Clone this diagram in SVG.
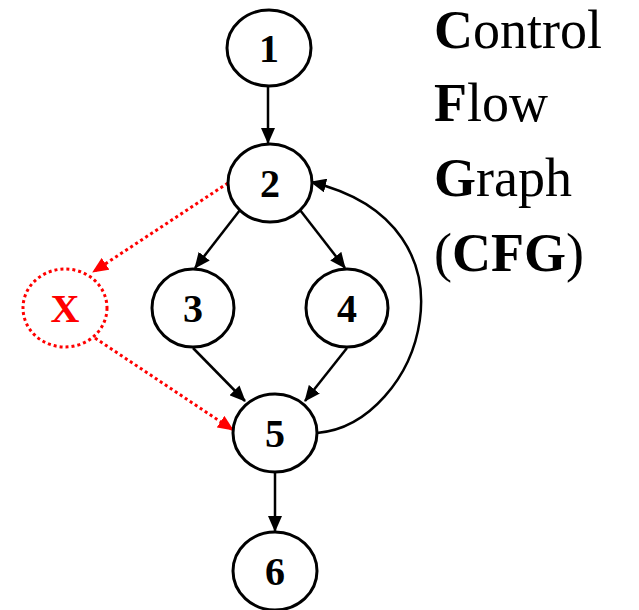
<svg xmlns="http://www.w3.org/2000/svg" width="639" height="610" viewBox="0 0 639 610">
<style>
.n ellipse{fill:#fff;stroke:#000;stroke-width:3}
.n text{font-family:"Liberation Serif",serif;font-weight:bold;font-size:40px;text-anchor:middle;fill:#000}
.e{fill:none;stroke:#000;stroke-width:2.5}
.r{fill:none;stroke:#f00;stroke-width:3;stroke-dasharray:3 3}
.t{font-family:"Liberation Serif",serif;font-size:54px;fill:#000}
.t tspan.b{font-weight:bold}
</style>
<defs>
<marker id="a" markerWidth="16" markerHeight="14" refX="15" refY="7" orient="auto" markerUnits="userSpaceOnUse" viewBox="0 0 16 14"><path d="M0,0 L16,7 L0,14 z" fill="#000"/></marker>
<marker id="ar" markerWidth="16" markerHeight="14" refX="15" refY="7" orient="auto" markerUnits="userSpaceOnUse" viewBox="0 0 16 14"><path d="M0,0 L16,7 L0,14 z" fill="#f00"/></marker>
</defs>
<g id="edges">
<line class="e" x1="268" y1="87" x2="268" y2="143" marker-end="url(#a)"/>
<line class="e" x1="240" y1="210" x2="195" y2="268" marker-end="url(#a)"/>
<line class="e" x1="300" y1="210" x2="345" y2="268" marker-end="url(#a)"/>
<line class="e" x1="193" y1="348" x2="245" y2="401" marker-end="url(#a)"/>
<line class="e" x1="347" y1="348" x2="305" y2="401" marker-end="url(#a)"/>
<line class="e" x1="275" y1="473" x2="275" y2="531" marker-end="url(#a)"/>
<path class="e" d="M317,433 C420,425 490,225 311,182" marker-end="url(#a)"/>
<line class="r" x1="228" y1="183" x2="93" y2="272" marker-end="url(#ar)"/>
<line class="r" x1="95" y1="338" x2="233" y2="430" marker-end="url(#ar)"/>
</g>
<g id="n1" class="n"><ellipse cx="269" cy="48" rx="42" ry="38"/><text x="269" y="62">1</text></g>
<g id="n2" class="n"><ellipse cx="270" cy="183" rx="42" ry="39"/><text x="270" y="197">2</text></g>
<g id="n3" class="n"><ellipse cx="193" cy="308" rx="41" ry="39"/><text x="193" y="322">3</text></g>
<g id="n4" class="n"><ellipse cx="347" cy="308" rx="41" ry="39"/><text x="347" y="322">4</text></g>
<g id="n5" class="n"><ellipse cx="275" cy="433" rx="42" ry="39"/><text x="275" y="447">5</text></g>
<g id="n6" class="n"><ellipse cx="275" cy="571" rx="42" ry="39"/><text x="275" y="585">6</text></g>
<g id="nx" class="n"><ellipse cx="65" cy="308" rx="42" ry="39" style="stroke:#f00;stroke-dasharray:3 3"/><text x="65" y="322" style="fill:#f00">X</text></g>
<g id="title">
<text class="t" x="434" y="48"><tspan class="b">C</tspan>ontrol</text>
<text class="t" x="434" y="121"><tspan class="b">F</tspan>low</text>
<text class="t" x="434" y="196"><tspan class="b">G</tspan>raph</text>
<text class="t" x="434" y="271">(<tspan class="b">CFG</tspan>)</text>
</g>
</svg>
